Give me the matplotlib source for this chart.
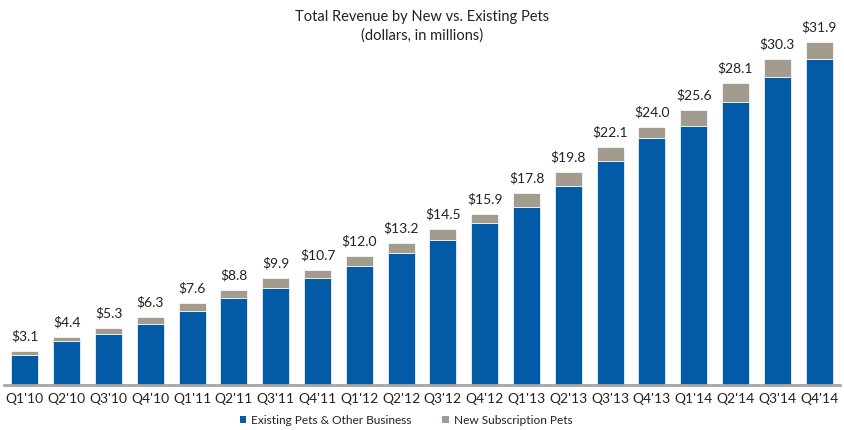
import matplotlib
matplotlib.use("Agg")
import matplotlib.pyplot as plt
from matplotlib.patches import Patch

quarters = ["Q1'10", "Q2'10", "Q3'10", "Q4'10", "Q1'11", "Q2'11", "Q3'11", "Q4'11",
            "Q1'12", "Q2'12", "Q3'12", "Q4'12", "Q1'13", "Q2'13", "Q3'13", "Q4'13",
            "Q1'14", "Q2'14", "Q3'14", "Q4'14"]
totals = [3.1, 4.4, 5.3, 6.3, 7.6, 8.8, 9.9, 10.7, 12.0, 13.2, 14.5, 15.9,
          17.8, 19.8, 22.1, 24.0, 25.6, 28.1, 30.3, 31.9]
new_pets = [0.35, 0.35, 0.6, 0.7, 0.75, 0.75, 0.9, 0.75, 0.95, 1.0, 1.05, 0.9,
            1.25, 1.3, 1.25, 1.05, 1.55, 1.75, 1.65, 1.55]
existing = [2.75, 4.05, 4.7, 5.6, 6.85, 8.05, 9.0, 9.95, 11.05, 12.2, 13.45, 15.0,
            16.55, 18.5, 20.85, 22.95, 24.05, 26.35, 28.65, 30.35]

plt.rcParams['font.family'] = ['Lato', 'DejaVu Sans']

blue = '#035BA8'
grey = '#A39C8E'

fig = plt.figure(figsize=(8.44, 4.30), dpi=100)
W, H = 844, 430
ax_left, ax_right = 4, 840
ax_top, ax_bottom = 8.6, 384.5
ax = fig.add_axes([ax_left / W, 1 - ax_bottom / H, (ax_right - ax_left) / W, (ax_bottom - ax_top) / H])

x = list(range(len(quarters)))
bw = 0.65
ax.bar(x, existing, width=bw, color=blue, edgecolor='white', linewidth=0.5)
ax.bar(x, new_pets, bottom=existing, width=bw, color=grey, edgecolor='white', linewidth=0.5)

for xi, t in zip(x, totals):
    ax.annotate(f"${t:.1f}", (xi, t), xytext=(0, 6), textcoords='offset points',
                ha='center', va='bottom', fontsize=10, color='#222222')

ax.set_xlim(-0.5, 19.5)
ax.set_ylim(0, 35)
ax.set_xticks(x)
ax.set_xticklabels(quarters, fontsize=10, color='#222222')
ax.tick_params(axis='x', length=0, pad=6)
ax.set_yticks([])
for s in ['top', 'right', 'left']:
    ax.spines[s].set_visible(False)
ax.spines['bottom'].set_color('#A6A6A6')
ax.spines['bottom'].set_linewidth(2)

fig.text(0.5, 1 - 17 / H, "Total Revenue by New vs. Existing Pets", ha='center', va='center',
         fontsize=10.5, color='#222222')
fig.text(0.5, 1 - 36 / H, "(dollars, in millions)", ha='center', va='center',
         fontsize=10.5, color='#222222')

handles = [Patch(facecolor=blue, label='Existing Pets & Other Business'),
           Patch(facecolor=grey, label='New Subscription Pets')]
fig.legend(handles=handles, loc='center', bbox_to_anchor=(406 / W, 1 - 420 / H), ncol=2,
           frameon=False, fontsize=8.6, handlelength=0.55, handleheight=0.55,
           handletextpad=0.4, columnspacing=2.6, labelcolor='#222222')

fig.savefig('out.png', dpi=100)
